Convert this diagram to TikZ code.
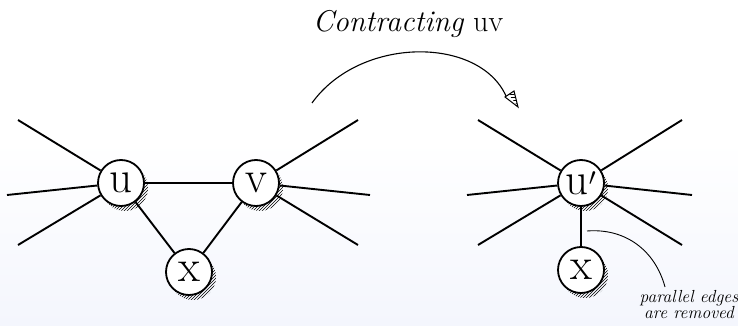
\documentclass[tikz,border=0pt]{standalone}
\usetikzlibrary{patterns,calc}
\begin{document}
\begin{tikzpicture}[x=1pt,y=-1pt,
  vertex/.style={circle, draw, line width=1.8pt, fill=white, minimum size=46pt, inner sep=0pt, font=\fontsize{45}{45}\selectfont},
  edge/.style={line width=1.9pt},
  hatchshadow/.style={pattern=north east lines},
  thinline/.style={line width=1.1pt}]
\fill[white] (0,0) rectangle (738,140);
\shade[top color=white, bottom color={rgb,255:red,244;green,246;blue,253}] (0,140) rectangle (738,326);
\useasboundingbox (0,0) rectangle (738,326);

% centres
\coordinate (cu) at (121,183);
\coordinate (cv) at (256,183);
\coordinate (cx) at (189,272);
\coordinate (cu2) at (581,183);
\coordinate (cx2) at (581,270);

% shadows
\foreach \c in {cu,cv,cx,cu2,cx2}
  \fill[hatchshadow] ($(\c)+(4,5)$) circle (23);

% nodes
\node[vertex] (u) at (cu) {u};
\node[vertex] (v) at (cv) {v};
\node[vertex] (x) at (cx) {x};
\node[vertex] (u2) at (cu2) {u$'$};
\node[vertex] (x2) at (cx2) {x};

% free ends
\coordinate (ua) at (18,120);
\coordinate (ub) at (7,195);
\coordinate (uc) at (18,245);
\coordinate (va) at (358,120);
\coordinate (vb) at (370,195);
\coordinate (vc) at (358,245);
\coordinate (wa) at (478,120);
\coordinate (wb) at (467,195);
\coordinate (wc) at (478,245);
\coordinate (wd) at (682,120);
\coordinate (we) at (692,195);
\coordinate (wf) at (682,245);

\draw[edge] (u) -- (ua);
\draw[edge] (u) -- (ub);
\draw[edge] (u) -- (uc);
\draw[edge] (v) -- (va);
\draw[edge] (v) -- (vb);
\draw[edge] (v) -- (vc);
\draw[edge] (u) -- (v);
\draw[edge] (u) -- (x);
\draw[edge] (v) -- (x);
\draw[edge] (u2) -- (wa);
\draw[edge] (u2) -- (wb);
\draw[edge] (u2) -- (wc);
\draw[edge] (u2) -- (wd);
\draw[edge] (u2) -- (we);
\draw[edge] (u2) -- (wf);
\draw[edge] (u2) -- (x2);

% title
\node[anchor=base] (title) at (408,32) {\fontsize{30}{32}\selectfont\textit{Contracting} uv};

% contraction arrow
\coordinate (as) at (312,103);
\coordinate (ae) at (506,96);
\draw[thinline] (as) .. controls (360,36) and (479,36) .. (ae);
\draw[line width=1pt, fill=white] (505,97) -- (514,91) -- (518,107) -- cycle;
\fill[pattern=horizontal lines] (509,95) -- (514,92) -- (517,105) -- cycle;

% note
\node[anchor=base] (note1) at (689,302) {\fontsize{17.5}{17}\selectfont\itshape parallel edges};
\node[anchor=base] (note2) at (689,318) {\fontsize{17.5}{17}\selectfont\itshape are removed};
\coordinate (ps) at (587,231);
\coordinate (pe) at (665,287);
\draw[line width=0.9pt] (ps) .. controls (625,228) and (655,250) .. (pe);
\end{tikzpicture}
\end{document}
